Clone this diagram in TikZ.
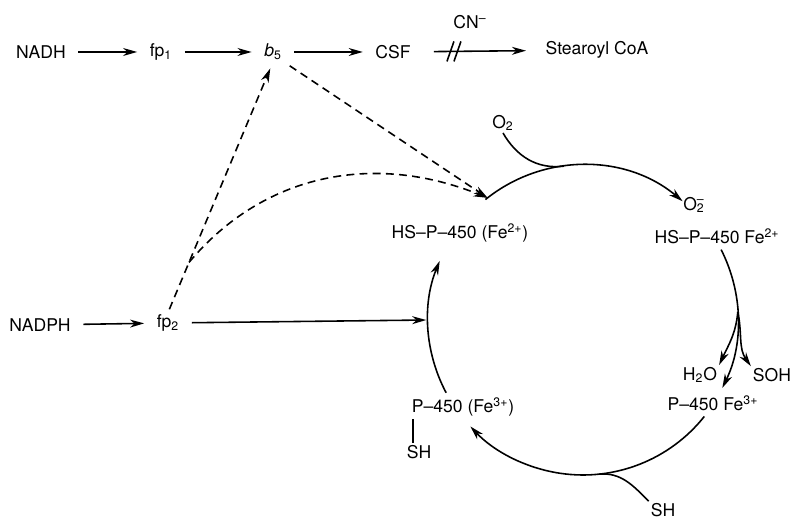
\documentclass[tikz,border=0pt]{standalone}
\usepackage{fontspec}
\setmainfont{TeX Gyre Heros}
\usepackage{tikz}
\usetikzlibrary{arrows.meta, calc}
\newcommand{\lsub}[1]{\textsubscript{#1}}
\newcommand{\lsup}[1]{\textsuperscript{#1}}

\begin{document}
\begin{tikzpicture}[x=0.02cm, y=0.02cm, >={Stealth[length=8pt,width=4.5pt,inset=2.5pt]},
    lbl/.style={inner sep=1pt, font=\fontsize{10}{12}\selectfont},
    flow/.style={->, line width=0.9pt, shorten >=6pt, shorten <=6pt},
    flux/.style={->, line width=0.9pt, dash pattern=on 4.5pt off 3pt},
    cyc/.style={line width=0.9pt}]
    \useasboundingbox (0,0) rectangle (791,519);

    % Chuoi NADH
    \node[lbl] (nadh) at (41,467) {NADH};
    \node[lbl] (fp1) at (161,467) {fp\lsub{1}};
    \node[lbl] (b5) at (273,467) {\textit{b}\lsub{5}};
    \node[lbl] (csf) at (393,467) {CSF};
    \node[lbl] (stear) at (597,469) {Stearoyl CoA};
    \node[lbl] (cn) at (470,497) {CN\lsup{--}};
    \draw[flow] (nadh) -- (fp1);
    \draw[flow] (fp1) -- (b5);
    \draw[flow] (b5) -- (csf);
    \draw[flow, shorten <=12pt, shorten >=10pt] (csf) -- coordinate[pos=0.3] (cut) (stear);
    % Vach chan
    \draw[line width=0.9pt] ($(cut)+(-5,-10)$) -- ($(cut)+(2,10)$);
    \draw[line width=0.9pt] ($(cut)+(2,-10)$) -- ($(cut)+(9,10)$);

    % Chuoi NADPH
    \node[lbl] (nadph) at (40,194) {NADPH};
    \node[lbl] (fp2) at (168,196) {fp\lsub{2}};
    \draw[flow] (nadph) -- (fp2);

    % Vong P-450
    \coordinate (cc) at (583,199);
    \def\rr{155}
    \coordinate (cl) at ($(cc)+(180:\rr)$);
    \coordinate (hsin) at ($(cc)+(128:\rr)$);
    \coordinate (split) at ($(cc)+(3:\rr)$);
    \coordinate (bot) at ($(cc)+(-84:\rr)$);
    \coordinate (top) at ($(cc)+(97:\rr)$);
    \draw[flow, shorten >=1pt] (fp2) -- (cl);

    \node[lbl] (hsl) at (460,286) {HS--P--450 (Fe\lsup{2+})};
    \node[lbl] (o2) at (503,396) {O\lsub{2}};
    \node[lbl] (o2m) at (694,314) {O\rlap{\lsup{--}}\lsub{2}};
    \node[lbl] (hsr) at (717,283) {HS--P--450 Fe\lsup{2+}};
    \node[lbl] (h2o) at (700,144) {H\lsub{2}O};
    \node[lbl] (soh) at (772,144) {SOH};
    \node[lbl] (pfr) at (713,116) {P--450 Fe\lsup{3+}};
    \node[lbl] (pfl) at (463,112) {P--450 (Fe\lsup{3+})};
    \node[lbl] (shl) at (419,67) {SH};
    \node[lbl] (shb) at (663,9) {SH};

    \draw[cyc, ->] ($(cc)+(129:\rr)$) arc[start angle=129, end angle=50, radius=\rr];
    \draw[cyc] (o2.south) to[out=-60, in=187] (top);
    \draw[cyc, ->] ($(cc)+(27:\rr)$) arc[start angle=27, end angle=-26, radius=\rr];
    \draw[cyc, ->] (split) to[out=-95, in=65] (h2o.north east);
    \draw[cyc, ->] (split) to[out=-78, in=125] (soh.north west);
    \draw[cyc, ->] ($(cc)+(-38.5:\rr)$) arc[start angle=-38.5, end angle=-136.6, radius=\rr];
    \draw[cyc] (bot) to[out=5, in=135] (shb.north west);
    \draw[cyc, ->] ($(cc)+(208:\rr)$) arc[start angle=208, end angle=157.6, radius=\rr];
    \draw[cyc] ($(shl.north)+(-6,0)$) -- ($(shl.north |- pfl.south)+(-6,0)$);

    % Duong net dut
    \draw[flux, shorten <=2pt, shorten >=4pt] (fp2.north) -- coordinate[pos=0.2] (fork) (b5.south);
    \draw[flux, shorten <=4pt] (b5.south east) -- (hsin);
    \draw[flux] (fork) to[out=50, in=158] (hsin);
\end{tikzpicture}
\end{document}
